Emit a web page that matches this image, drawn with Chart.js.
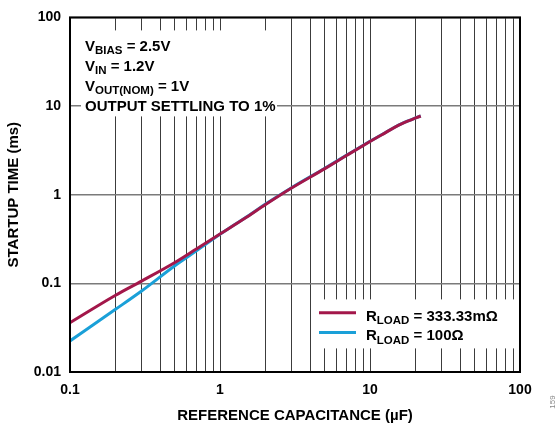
<!DOCTYPE html>
<html><head><meta charset="utf-8">
<script src="https://cdn.jsdelivr.net/npm/chart.js@4.4.1/dist/chart.umd.min.js"></script>
<style>html,body{margin:0;padding:0;background:#fff;}canvas{display:block;}</style>
</head><body>
<canvas id="c" width="558" height="426"></canvas>
<script>
// ---- data ----
const capacitance = [0.1, 0.2, 0.3, 0.5, 0.7, 1, 1.5, 2, 3, 5, 7, 10, 12, 15, 18, 20, 21.8];
const startupRload333m = [0.036, 0.073, 0.106, 0.172, 0.246, 0.36, 0.556, 0.77, 1.19, 1.97, 2.78, 3.98, 4.75, 5.9, 6.8, 7.3, 7.72];
const startupRload100 = [0.0224, 0.0506, 0.082, 0.158, 0.234, 0.357, 0.56, 0.78, 1.2, 1.99, 2.8, 4.0, 4.77, 5.92, 6.81, 7.31, 7.72];
const seriesNames = ['RLOAD = 333.33mΩ', 'RLOAD = 100Ω'];
const legendParts = [['R', 'LOAD', ' = 333.33mΩ'], ['R', 'LOAD', ' = 100Ω']];
const annotationLines = [['V', 'BIAS', ' = 2.5V'], ['V', 'IN', ' = 1.2V'], ['V', 'OUT(NOM)', ' = 1V'], ['OUTPUT SETTLING TO 1%', '', '']];
const xTickValues = [0.1, 1, 10, 100];
const xTickLabels = ['0.1', '1', '10', '100'];
const yTickValues = [0.01, 0.1, 1, 10, 100];
const yTickLabels = ['0.01', '0.1', '1', '10', '100'];
const xTitle = 'REFERENCE CAPACITANCE (µF)';
const yTitle = 'STARTUP TIME (ms)';
const figureNote = '159';

// ---- style ----
const FAMILY = '"Liberation Sans", Arial, Helvetica, sans-serif';
const RED = '#A3174A';
const BLUE = '#1AA0D8';
const MAIN_FONT = 'bold 15px ' + FAMILY;
const SUB_FONT = 'bold 11.5px ' + FAMILY;

const xGrid = [];
for (const d of [0.1, 1, 10]) for (let m = 1; m < 10; m++) xGrid.push(+(m * d).toPrecision(3));
xGrid.push(100);

function drawRich(ctx, parts, x, y) {
  ctx.font = MAIN_FONT;
  ctx.fillText(parts[0], x, y);
  x += ctx.measureText(parts[0]).width;
  if (parts[1]) {
    ctx.font = SUB_FONT;
    ctx.fillText(parts[1], x, y + 3.5);
    x += ctx.measureText(parts[1]).width;
  }
  if (parts[2]) {
    ctx.font = MAIN_FONT;
    ctx.fillText(parts[2], x, y);
  }
}

const decor = {
  id: 'decor',
  beforeDatasetsDraw(chart) {
    const {ctx, chartArea: a} = chart;
    ctx.save();
    ctx.fillStyle = '#fff';
    ctx.fillRect(a.left + 11, a.top + 13, 196, 86);
    ctx.fillRect(a.left + 248, a.top + 282, a.right - (a.left + 248), 49);
    ctx.restore();
  },
  afterDatasetsDraw(chart) {
    const {ctx, chartArea: a} = chart;
    ctx.save();
    ctx.strokeStyle = '#000';
    ctx.lineWidth = 2;
    ctx.strokeRect(a.left, a.top, a.right - a.left, a.bottom - a.top);
    ctx.fillStyle = '#000';
    ctx.textBaseline = 'alphabetic';
    ctx.textAlign = 'left';
    annotationLines.forEach((p, i) => drawRich(ctx, p, a.left + 15, a.top + 33.5 + 20 * i));
    const colors = [RED, BLUE];
    const ly = [a.top + 295.3, a.top + 315];
    const ty = [a.top + 303.5, a.top + 323];
    legendParts.forEach((p, i) => {
      ctx.strokeStyle = colors[i];
      ctx.lineWidth = 3;
      ctx.beginPath();
      ctx.moveTo(a.left + 249, ly[i]);
      ctx.lineTo(a.left + 286, ly[i]);
      ctx.stroke();
      ctx.fillStyle = '#000';
      drawRich(ctx, p, a.left + 296, ty[i]);
    });
    ctx.translate(553, 402);
    ctx.rotate(-Math.PI / 2);
    ctx.font = '8px ' + FAMILY;
    ctx.fillStyle = '#888';
    ctx.textAlign = 'center';
    ctx.textBaseline = 'middle';
    ctx.fillText(figureNote, 0, 0);
    ctx.restore();
  }
};

Chart.defaults.font.family = FAMILY;
Chart.defaults.color = '#000';

new Chart(document.getElementById('c'), {
  type: 'line',
  data: {
    datasets: [
      {label: seriesNames[0], data: capacitance.map((c, i) => ({x: c, y: startupRload333m[i]})),
       borderColor: RED, borderWidth: 3, pointRadius: 0, cubicInterpolationMode: 'monotone', fill: false},
      {label: seriesNames[1], data: capacitance.map((c, i) => ({x: c, y: startupRload100[i]})),
       borderColor: BLUE, borderWidth: 3, pointRadius: 0, cubicInterpolationMode: 'monotone', fill: false}
    ]
  },
  options: {
    responsive: false,
    animation: false,
    devicePixelRatio: 1,
    layout: {padding: {top: 14, right: 38, left: 0, bottom: 0}},
    plugins: {legend: {display: false}, tooltip: {enabled: false}},
    scales: {
      x: {
        type: 'logarithmic', position: 'bottom', min: 0.1, max: 100,
        afterBuildTicks: s => { s.ticks = xGrid.map(v => ({value: v})); },
        afterFit: s => { s.height = 54; },
        grid: {color: '#3c3c3c', lineWidth: 1, drawTicks: false},
        border: {display: false},
        ticks: {
          autoSkip: false, maxRotation: 0, minRotation: 0, padding: 10,
          font: {size: 14, weight: 'bold'}, color: '#000',
          callback: v => { const i = xTickValues.indexOf(v); return i < 0 ? '' : xTickLabels[i]; }
        },
        title: {display: true, text: xTitle, font: {size: 15, weight: 'bold'}, color: '#000', padding: {top: 0, bottom: 1}}
      },
      y: {
        type: 'logarithmic', position: 'left', min: 0.01, max: 100,
        afterBuildTicks: s => { s.ticks = yTickValues.map(v => ({value: v})); },
        afterFit: s => { s.width = 70; },
        grid: {color: '#7a7a7a', lineWidth: 1.5, drawTicks: false},
        border: {display: false},
        ticks: {
          autoSkip: false, padding: 9,
          font: {size: 14, weight: 'bold'}, color: '#000',
          callback: v => { const i = yTickValues.indexOf(v); return i < 0 ? '' : yTickLabels[i]; }
        },
        title: {display: true, text: yTitle, font: {size: 15, weight: 'bold'}, color: '#000', padding: {top: 5, bottom: 0}}
      }
    }
  },
  plugins: [decor]
});
</script>
</body></html>
